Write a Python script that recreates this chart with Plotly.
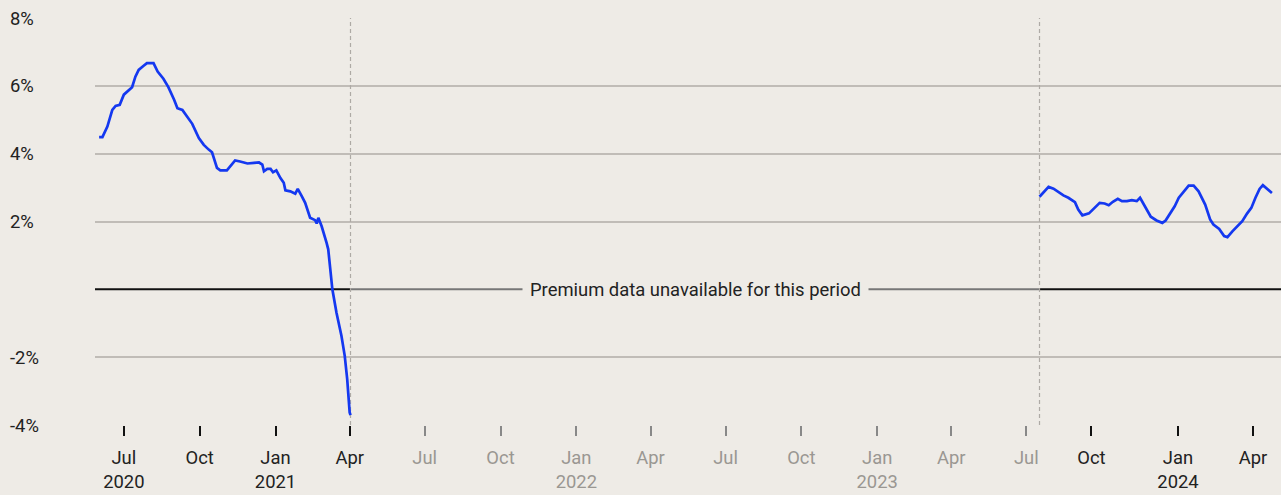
import plotly.graph_objects as go

# ---------------- data ----------------
seg1_dates = ["2020-06-01", "2020-06-05", "2020-06-11", "2020-06-17", "2020-06-21", "2020-06-26",
              "2020-07-01", "2020-07-07", "2020-07-11", "2020-07-15", "2020-07-19", "2020-07-25",
              "2020-07-29", "2020-08-06", "2020-08-11", "2020-08-18", "2020-08-24", "2020-08-31",
              "2020-09-04", "2020-09-10", "2020-09-16", "2020-09-22", "2020-09-30", "2020-10-06",
              "2020-10-12", "2020-10-16", "2020-10-22", "2020-10-26", "2020-11-03", "2020-11-09",
              "2020-11-13", "2020-11-19", "2020-11-28", "2020-12-06", "2020-12-12", "2020-12-16",
              "2020-12-18", "2020-12-22", "2020-12-26", "2020-12-29", "2021-01-02", "2021-01-07",
              "2021-01-11", "2021-01-13", "2021-01-19", "2021-01-25", "2021-01-28", "2021-02-02",
              "2021-02-06", "2021-02-12", "2021-02-18", "2021-02-20", "2021-02-22", "2021-02-26",
              "2021-03-02", "2021-03-04", "2021-03-06", "2021-03-08", "2021-03-11", "2021-03-16",
              "2021-03-22", "2021-03-26", "2021-03-29", "2021-04-01", "2021-04-02"]
seg1_values = [4.49, 4.49, 4.80, 5.29, 5.41, 5.44,
               5.74, 5.86, 5.96, 6.27, 6.47, 6.59,
               6.67, 6.67, 6.42, 6.21, 5.96, 5.59,
               5.34, 5.29, 5.08, 4.88, 4.46, 4.26,
               4.12, 4.04, 3.58, 3.51, 3.51, 3.68,
               3.80, 3.77, 3.71, 3.73, 3.74, 3.68,
               3.48, 3.55, 3.55, 3.45, 3.51, 3.28,
               3.14, 2.92, 2.89, 2.82, 2.96, 2.74,
               2.55, 2.11, 2.04, 1.94, 2.11, 1.86,
               1.57, 1.37, 1.18, 0.69, 0.00, -0.69,
               -1.37, -1.96, -2.65, -3.63, -3.71]

seg2_dates = ["2023-07-17", "2023-07-28", "2023-08-03", "2023-08-11", "2023-08-15", "2023-08-21",
              "2023-08-29", "2023-09-02", "2023-09-07", "2023-09-15", "2023-09-22", "2023-09-28",
              "2023-10-04", "2023-10-09", "2023-10-14", "2023-10-20", "2023-10-25", "2023-10-31",
              "2023-11-06", "2023-11-12", "2023-11-16", "2023-11-23", "2023-11-29", "2023-12-06",
              "2023-12-13", "2023-12-17", "2023-12-23", "2023-12-28", "2024-01-02", "2024-01-08",
              "2024-01-14", "2024-01-20", "2024-01-26", "2024-02-03", "2024-02-09", "2024-02-13",
              "2024-02-20", "2024-02-26", "2024-03-01", "2024-03-07", "2024-03-13", "2024-03-19",
              "2024-03-25", "2024-03-30", "2024-04-04", "2024-04-09", "2024-04-13", "2024-04-18",
              "2024-04-24"]
seg2_values = [2.73, 3.02, 2.97, 2.84, 2.77, 2.70,
               2.57, 2.35, 2.18, 2.24, 2.42, 2.55,
               2.53, 2.48, 2.58, 2.67, 2.60, 2.60,
               2.63, 2.60, 2.70, 2.40, 2.14, 2.03,
               1.96, 2.03, 2.27, 2.45, 2.70, 2.87,
               3.06, 3.06, 2.89, 2.50, 2.06, 1.91,
               1.78, 1.57, 1.54, 1.71, 1.86, 2.01,
               2.24, 2.40, 2.70, 2.96, 3.07, 2.96,
               2.84]

y_ticks = [-4, -2, 2, 4, 6, 8]
y_labels = ["-4%", "-2%", "2%", "4%", "6%", "8%"]

active_tick_vals = ["2020-07-01", "2020-10-01", "2021-01-01", "2021-04-01",
                    "2023-09-18", "2024-01-01", "2024-04-01"]
active_tick_text = ["Jul<br>2020", "Oct", "Jan<br>2021", "Apr", "Oct", "Jan<br>2024", "Apr"]
gap_tick_vals = ["2021-07-01", "2021-10-01", "2022-01-01", "2022-04-01", "2022-07-01",
                 "2022-10-01", "2023-01-01", "2023-04-01", "2023-07-01"]
gap_tick_text = ["Jul", "Oct", "Jan<br>2022", "Apr", "Jul", "Oct", "Jan<br>2023", "Apr", "Jul"]

x_range = ["2020-05-27", "2024-05-05"]
gap_label = "Premium data unavailable for this period"
gap_mid = "2022-05-25"

# ---------------- style ----------------
BG = "#eeebe6"
GRID = "#c0bcb7"
BLUE = "#1438f0"
FONT = "Roboto"
FS = 18.4
TXT = "#222222"

fig = go.Figure()

fig.add_trace(go.Scatter(x=seg1_dates, y=seg1_values, mode="lines",
                         line=dict(color=BLUE, width=2.7), showlegend=False, hoverinfo="skip"))
fig.add_trace(go.Scatter(x=seg2_dates, y=seg2_values, mode="lines",
                         line=dict(color=BLUE, width=2.7), showlegend=False, hoverinfo="skip"))
# invisible trace to anchor the secondary (grey) tick axis
fig.add_trace(go.Scatter(x=[gap_mid], y=[0], xaxis="x2", mode="markers",
                         marker=dict(opacity=0), showlegend=False, hoverinfo="skip"))

gap_start = seg1_dates[-1]
gap_end = seg2_dates[0]

shapes = [
    dict(type="line", xref="x", yref="y", x0=x_range[0], x1=gap_start, y0=0, y1=0,
         line=dict(color="#111111", width=2), layer="between"),
    dict(type="line", xref="x", yref="y", x0=gap_start, x1=gap_end, y0=0, y1=0,
         line=dict(color="#777777", width=2), layer="between"),
    dict(type="line", xref="x", yref="y", x0=gap_end, x1=x_range[1], y0=0, y1=0,
         line=dict(color="#111111", width=2), layer="between"),
    dict(type="line", xref="x", yref="y", x0=gap_start, x1=gap_start, y0=-4, y1=8,
         line=dict(color="#aeaaa5", width=1.2, dash="4px,3px"), layer="between"),
    dict(type="line", xref="x", yref="y", x0=gap_end, x1=gap_end, y0=-4, y1=8,
         line=dict(color="#aeaaa5", width=1.2, dash="4px,3px"), layer="between"),
]

annotations = [
    dict(x=gap_mid, y=0, xref="x", yref="y", text=gap_label, showarrow=False,
         bgcolor=BG, borderpad=7, font=dict(family=FONT, size=FS, color=TXT),
         xanchor="center", yanchor="middle"),
]
for v, lab in zip(y_ticks, y_labels):
    annotations.append(dict(x=-0.0734, y=v, xref="paper", yref="y", text=lab, showarrow=False,
                            xanchor="left", yanchor="middle",
                            font=dict(family=FONT, size=FS, color=TXT)))

fig.update_layout(
    width=1281, height=495,
    paper_bgcolor=BG, plot_bgcolor=BG,
    margin=dict(l=95, r=0, t=18, b=70),
    font=dict(family=FONT, size=FS, color=TXT),
    shapes=shapes, annotations=annotations,
    xaxis=dict(type="date", range=x_range, tickmode="array",
               tickvals=active_tick_vals, ticktext=active_tick_text,
               ticks="outside", ticklen=10, tickwidth=2, tickcolor="#111111",
               ticklabelstandoff=6,
               showgrid=False, zeroline=False, showline=False,
               tickfont=dict(family=FONT, size=FS, color=TXT)),
    xaxis2=dict(type="date", range=x_range, overlaying="x", anchor="y", side="bottom",
                tickmode="array", tickvals=gap_tick_vals, ticktext=gap_tick_text,
                ticks="outside", ticklen=10, tickwidth=2, tickcolor="#888888",
                ticklabelstandoff=6,
                showgrid=False, zeroline=False, showline=False,
                tickfont=dict(family=FONT, size=FS, color="#9a9792")),
    yaxis=dict(range=[-4, 8], tickmode="array", tickvals=y_ticks, showticklabels=False,
               showgrid=True, gridcolor=GRID, gridwidth=2, zeroline=False, showline=False,
               ticks=""),
)

fig.write_html("out.html",
               config={"displayModeBar": False, "staticPlot": True},
               post_script="document.body.style.margin='0';document.body.style.overflow='hidden';")
